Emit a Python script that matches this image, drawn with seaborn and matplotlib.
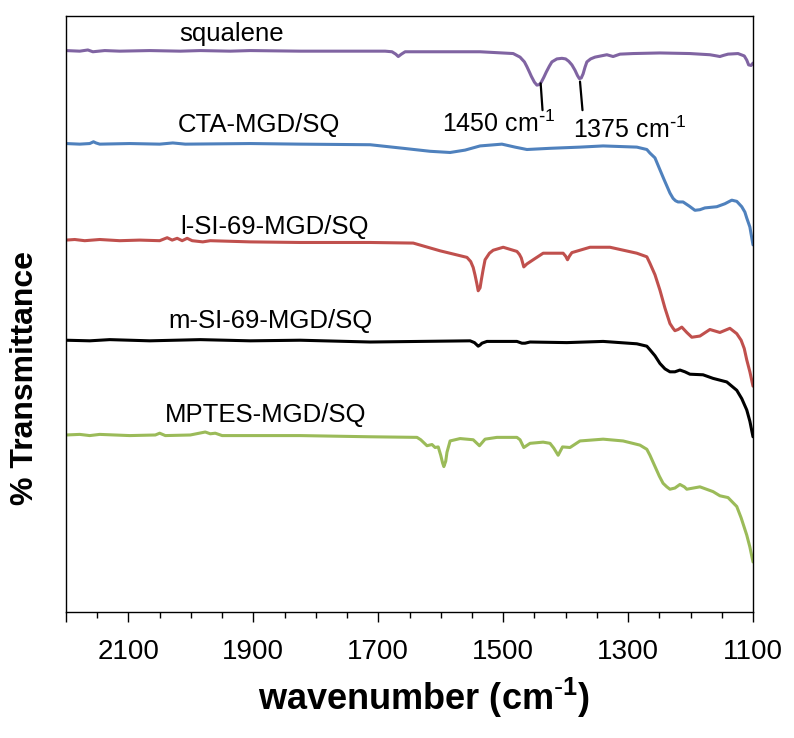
import matplotlib
matplotlib.use("Agg")
import matplotlib.pyplot as plt
import seaborn as sns
import pandas as pd
from matplotlib.ticker import FixedLocator, MultipleLocator

# ---------------- data (wavenumber cm-1, offset % transmittance) ----------------
squalene_wn = [2200, 2178, 2165, 2157, 2138, 2114, 2066, 2017, 1985, 1937, 1905, 1825, 1745,
               1689, 1678, 1672, 1668, 1663, 1657, 1633, 1537, 1484, 1473, 1466, 1462, 1458,
               1455, 1450, 1446, 1442, 1439, 1435, 1431, 1426, 1422, 1414, 1406, 1400, 1395,
               1390, 1385, 1381, 1378, 1375, 1372, 1369, 1366, 1360, 1353, 1334, 1324, 1313,
               1292, 1249, 1201, 1169, 1158, 1153, 1147, 1140, 1124, 1114, 1110, 1107, 1103, 1100]
squalene_t = [94.2, 94.1, 94.3, 94.0, 94.2, 94.1, 94.2, 94.1, 94.2, 94.1, 94.2, 94.1, 94.1,
              94.1, 94.0, 93.6, 93.2, 93.6, 94.0, 94.0, 94.0, 93.7, 93.1, 92.3, 91.5, 90.6,
              89.9, 88.9, 88.4, 88.5, 88.9, 89.7, 90.6, 91.6, 92.3, 92.8, 92.9, 92.8, 92.4,
              91.8, 90.9, 90.0, 89.5, 89.6, 90.3, 91.4, 92.3, 92.8, 93.1, 93.5, 93.2, 93.6,
              93.7, 93.8, 93.7, 93.5, 93.3, 93.2, 93.4, 93.6, 93.7, 93.3, 92.6, 91.8, 91.7, 92.1]

cta_wn = [2200, 2178, 2162, 2156, 2152, 2146, 2098, 2050, 2029, 2009, 1905, 1825, 1713, 1660,
          1617, 1585, 1561, 1537, 1502, 1481, 1462, 1425, 1377, 1340, 1286, 1270, 1265, 1257,
          1249, 1243, 1238, 1233, 1228, 1224, 1220, 1212, 1202, 1193, 1185, 1177, 1158, 1145,
          1134, 1126, 1118, 1113, 1110, 1105, 1100]
cta_t = [78.6, 78.5, 78.6, 78.9, 78.7, 78.5, 78.6, 78.5, 78.7, 78.5, 78.6, 78.5, 78.4, 77.8,
         77.3, 77.1, 77.5, 78.2, 78.5, 78.0, 77.6, 77.8, 78.0, 78.2, 78.0, 77.6, 77.0, 76.2,
         74.2, 72.7, 71.5, 70.3, 69.4, 69.0, 68.8, 68.8, 68.1, 67.4, 67.5, 67.8, 68.0, 68.5,
         69.1, 68.9, 68.0, 67.1, 66.1, 64.6, 61.6]

lsi_wn = [2200, 2186, 2170, 2146, 2114, 2082, 2050, 2038, 2030, 2022, 2014, 2006, 1998, 1981,
          1969, 1905, 1825, 1713, 1644, 1601, 1558, 1552, 1548, 1545, 1542, 1540, 1537, 1535,
          1532, 1529, 1522, 1516, 1500, 1478, 1474, 1471, 1467, 1462, 1452, 1436, 1404, 1400,
          1397, 1394, 1390, 1361, 1329, 1286, 1270, 1265, 1257, 1249, 1241, 1233, 1228, 1225,
          1220, 1214, 1206, 1198, 1185, 1169, 1153, 1137, 1126, 1119, 1114, 1110, 1105, 1100]
lsi_t = [62.4, 62.5, 62.3, 62.5, 62.3, 62.4, 62.3, 62.8, 62.4, 62.7, 62.3, 62.7, 62.3, 62.1,
         62.3, 62.1, 62.0, 62.0, 61.9, 60.6, 59.5, 58.8, 57.8, 56.5, 55.0, 53.9, 54.4, 55.7,
         57.5, 59.1, 60.2, 60.7, 61.2, 60.5, 60.0, 59.4, 57.9, 58.4, 59.1, 60.2, 60.2, 59.7,
         59.1, 59.7, 60.3, 61.2, 61.2, 60.2, 59.6, 58.5, 56.6, 54.0, 51.0, 48.4, 47.6, 47.2,
         47.4, 47.8, 46.9, 46.1, 46.3, 47.4, 46.9, 47.6, 46.7, 45.6, 44.2, 42.3, 40.3, 37.9]

msi_wn = [2200, 2162, 2130, 2066, 1985, 1905, 1825, 1713, 1553, 1546, 1542, 1540, 1537, 1534,
          1526, 1478, 1470, 1465, 1457, 1398, 1340, 1286, 1270, 1265, 1257, 1249, 1241, 1233,
          1225, 1217, 1209, 1201, 1180, 1164, 1142, 1126, 1118, 1110, 1105, 1100]
msi_t = [45.6, 45.5, 45.7, 45.5, 45.7, 45.5, 45.6, 45.3, 45.5, 45.2, 44.8, 44.6, 44.8, 45.1,
         45.4, 45.4, 45.1, 45.1, 45.3, 45.2, 45.4, 45.0, 44.6, 44.0, 43.0, 41.7, 40.8, 40.3,
         40.3, 40.6, 40.3, 39.9, 39.8, 39.2, 38.6, 37.2, 35.8, 33.9, 32.0, 29.4]

mptes_wn = [2200, 2178, 2162, 2146, 2098, 2057, 2050, 2041, 2001, 1977, 1969, 1961, 1950, 1889,
            1825, 1713, 1638, 1632, 1622, 1614, 1609, 1604, 1600, 1597, 1595, 1592, 1590, 1585,
            1569, 1548, 1538, 1529, 1510, 1478, 1473, 1467, 1457, 1436, 1425, 1419, 1412, 1405,
            1393, 1377, 1340, 1308, 1281, 1270, 1265, 1256, 1250, 1244, 1238, 1233, 1225, 1217,
            1210, 1206, 1185, 1164, 1153, 1140, 1126, 1119, 1110, 1105, 1100]
mptes_t = [29.7, 29.8, 29.6, 29.8, 29.6, 29.7, 30.0, 29.6, 29.7, 30.2, 29.9, 30.0, 29.6, 29.6,
           29.6, 29.4, 29.3, 28.9, 27.9, 28.1, 27.6, 27.7, 26.3, 25.0, 24.4, 25.3, 26.8, 28.7,
           29.1, 28.9, 27.9, 29.0, 29.3, 29.3, 28.9, 27.6, 28.3, 28.5, 28.3, 27.5, 26.3, 27.7,
           27.6, 28.7, 29.0, 28.7, 28.0, 27.3, 26.3, 24.2, 22.8, 21.6, 21.0, 20.6, 20.8, 21.4,
           21.0, 20.6, 21.0, 20.2, 19.5, 19.2, 17.7, 15.8, 12.9, 10.9, 8.4]

series_names = ["squalene", "CTA-MGD/SQ", "l-SI-69-MGD/SQ", "m-SI-69-MGD/SQ", "MPTES-MGD/SQ"]
series_colors = ["#8064A2", "#4F81BD", "#C0504D", "#000000", "#9BBB59"]
series_data = [(squalene_wn, squalene_t), (cta_wn, cta_t), (lsi_wn, lsi_t),
               (msi_wn, msi_t), (mptes_wn, mptes_t)]

x_tick_values = [2100, 1900, 1700, 1500, 1300, 1100]

# ---------------- style ----------------
sns.set_style("white")
plt.rcParams["font.family"] = ["Liberation Sans", "DejaVu Sans"]
plt.rcParams["mathtext.default"] = "regular"
plt.rcParams["text.color"] = "black"
plt.rcParams["axes.labelcolor"] = "black"
plt.rcParams["xtick.color"] = "black"
plt.rcParams["xtick.labelcolor"] = "black"

fig = plt.figure(figsize=(7.94, 7.38), dpi=100)
ax = fig.add_axes([66 / 794, 1 - 612 / 738, 687 / 794, 596 / 738])

frames = []
for name, (wn, t) in zip(series_names, series_data):
    frames.append(pd.DataFrame({"wavenumber": wn, "T": t, "sample": name}))
df = pd.concat(frames, ignore_index=True)

sns.lineplot(data=df, x="wavenumber", y="T", hue="sample", hue_order=series_names,
             palette=series_colors, estimator=None, sort=True, lw=2.2, legend=False, ax=ax)
for ln in ax.get_lines():
    ln.set_solid_joinstyle("round")
    ln.set_solid_capstyle("round")

ax.set_xlim(2200, 1100)
ax.set_ylim(0, 100)

# labels on curves
label_pos = [(1935, 95.8), (1891, 80.6), (1866, 63.5), (1872, 47.6), (1880, 31.9)]
for name, (lx, ly) in zip(series_names, label_pos):
    ax.text(lx, ly, name, ha="center", va="baseline", fontsize=18.5, color="black")

# peak annotations
ax.plot([1440, 1437], [88.7, 84.2], color="black", lw=1.6)
ax.plot([1377, 1373], [89.0, 84.2], color="black", lw=1.6)
ax.text(1598, 80.6, r"1450 cm$^{\text{-}1}$", ha="left", va="baseline", fontsize=18)
ax.text(1388, 79.5, r"1375 cm$^{\text{-}1}$", ha="left", va="baseline", fontsize=18)

# axes formatting
ax.xaxis.set_major_locator(FixedLocator([2200] + x_tick_values))
ax.set_xticklabels([""] + [str(v) for v in x_tick_values])
ax.xaxis.set_minor_locator(MultipleLocator(50))
ax.tick_params(axis="x", which="major", direction="out", length=7.5, width=1,
               labelsize=20, pad=12, bottom=True)
ax.tick_params(axis="x", which="minor", direction="out", length=4.5, width=1, bottom=True)
ax.set_yticks([])
for s in ax.spines.values():
    s.set_visible(True)
    s.set_color("black")
    s.set_linewidth(1.0)

ax.set_xlabel(r"wavenumber (cm$^{\text{-}1}$)", fontsize=26, fontweight="bold")
ax.xaxis.set_label_coords((424.5 - 66) / 687, (612 - 676) / 596)
ax.set_ylabel("")
fig.text(25 / 794, 1 - 378 / 738, "% Transmittance", rotation=90, ha="center", va="center",
         fontsize=23, fontweight="bold")

fig.savefig("out.png", dpi=100)
